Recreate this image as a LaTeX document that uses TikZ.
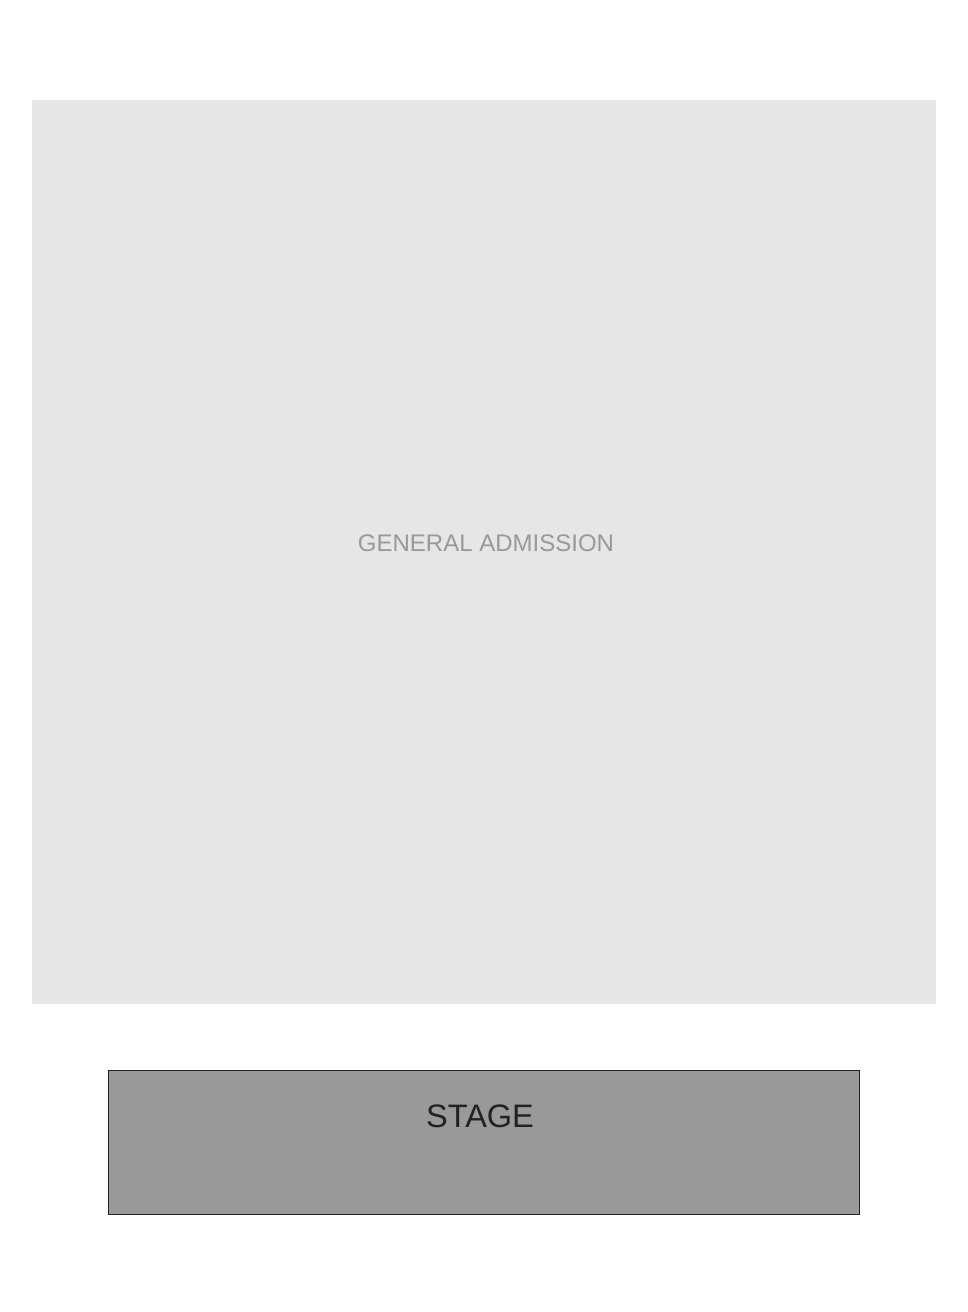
\documentclass[tikz,border=0pt]{standalone}
\usepackage{fontspec}
\setmainfont{Liberation Sans}
\usetikzlibrary{positioning}

\definecolor{floorgray}{HTML}{E6E6E6}
\definecolor{floortext}{HTML}{999999}
\definecolor{stagegray}{HTML}{999999}
\definecolor{stageline}{HTML}{222222}

\begin{document}
\begin{tikzpicture}[x=1pt,y=-1pt,
floor/.style={rectangle, fill=floorgray, draw=none, minimum width=904pt, minimum height=904pt, inner sep=0pt},
stagebox/.style={rectangle, fill=stagegray, draw=stageline, line width=1pt, minimum width=751pt, minimum height=144pt, inner sep=0pt},
floorlabel/.style={text=floortext, font=\fontsize{24}{28}\selectfont, inner sep=0pt, anchor=base},
stagelabel/.style={text=stageline, font=\fontsize{32.5}{40}\selectfont, inner sep=0pt, anchor=base}
]
\useasboundingbox (0,0) rectangle (968,1312);

\node[floor](general_admission) at (484,552){};
\node[floorlabel](general_label) at (486,551){GENERAL ADMISSION};

\node[stagebox](stage) at (484,1142){};
\node[stagelabel](stage_label) at (480,1127){STAGE};
\end{tikzpicture}
\end{document}
